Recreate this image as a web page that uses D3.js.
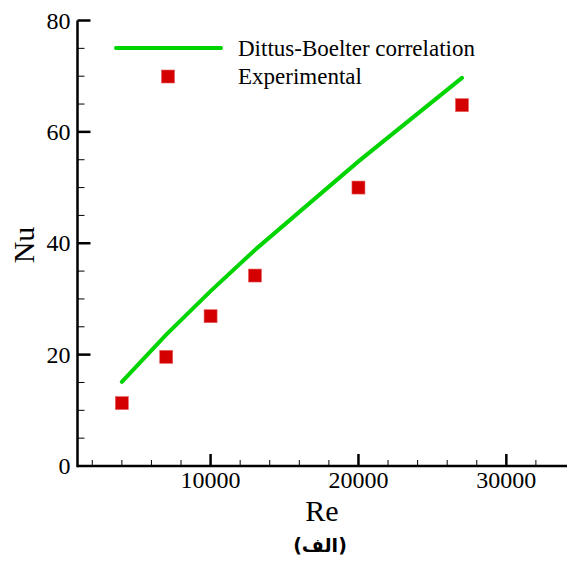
<!DOCTYPE html>
<html lang="en">
<head>
    <meta charset="UTF-8">
    <title>Nu vs Re</title>
    <script src="https://d3js.org/d3.v7.min.js"></script>
    <style>
        body { margin: 0; background: #fff; }
        svg { display: block; }
        text { font-family: 'Liberation Serif', 'Times New Roman', serif; fill: #000; }
    </style>
</head>
<body>
    <svg id="chart"></svg>
    <script>
        // Data
        const reValues = [4000, 7000, 10000, 13000, 20000, 27000];
        const nuCorrelation = [15.1, 23.6, 31.4, 38.8, 54.7, 69.7];
        const nuExperimental = [11.3, 19.6, 26.9, 34.2, 50.0, 64.8];
        const xTicks = [10000, 20000, 30000];
        const yTicks = [0, 20, 40, 60, 80];
        const legendLabels = ["Dittus-Boelter correlation", "Experimental"];

        const width = 567, height = 562;
        const svg = d3.select("#chart").attr("width", width).attr("height", height);

        const x = d3.scaleLinear().domain([1000, 33900]).range([77.5, 564]);
        const y = d3.scaleLinear().domain([0, 80]).range([466, 20.5]);

        const green = "#00d400", red = "#d40000";

        // ticks (inward)
        const axisG = svg.append("g").attr("stroke", "#000");
        d3.range(2000, 33900, 2000).forEach(v => {
            const major = v % 10000 === 0;
            axisG.append("line")
                .attr("x1", x(v)).attr("x2", x(v))
                .attr("y1", y(0)).attr("y2", y(0) - (major ? 12 : 6))
                .attr("stroke-width", major ? 2.5 : 1);
        });
        d3.range(5, 80.1, 5).forEach(v => {
            const major = v % 20 === 0;
            axisG.append("line")
                .attr("x1", x.range()[0]).attr("x2", x.range()[0] + (major ? 13 : 7))
                .attr("y1", y(v)).attr("y2", y(v))
                .attr("stroke-width", major ? 2.5 : 1);
        });
        // axis lines
        axisG.append("line")
            .attr("x1", x.range()[0]).attr("x2", width)
            .attr("y1", y(0)).attr("y2", y(0)).attr("stroke-width", 2.5);
        axisG.append("line")
            .attr("x1", x.range()[0]).attr("x2", x.range()[0])
            .attr("y1", y(0) + 1.2).attr("y2", y(80)).attr("stroke-width", 2.5);

        // tick labels
        svg.append("g").selectAll("text").data(xTicks).join("text")
            .attr("x", d => x(d)).attr("y", 488)
            .attr("text-anchor", "middle").attr("font-size", 24)
            .text(d => d);
        svg.append("g").selectAll("text").data(yTicks).join("text")
            .attr("x", 70.5).attr("y", d => y(d) + 8)
            .attr("text-anchor", "end").attr("font-size", 24)
            .text(d => d);

        // axis titles
        svg.append("text").attr("x", 322).attr("y", 521)
            .attr("text-anchor", "middle").attr("font-size", 30).text("Re");
        svg.append("text")
            .attr("transform", "translate(34,245) rotate(-90)")
            .attr("text-anchor", "middle").attr("font-size", 30).text("Nu");
        svg.append("text").attr("x", 320).attr("y", 552)
            .attr("text-anchor", "middle").attr("font-size", 19)
            .attr("font-weight", "bold")
            .style("font-family", "'DejaVu Sans', sans-serif")
            .attr("direction", "rtl")
            .text("(الف)");

        // correlation line
        const line = d3.line().x((d, i) => x(reValues[i])).y(d => y(d));
        svg.append("path").datum(nuCorrelation)
            .attr("d", line).attr("fill", "none")
            .attr("stroke", green).attr("stroke-width", 4)
            .attr("stroke-linecap", "round");

        // experimental points
        const s = 13;
        svg.append("g").selectAll("rect").data(nuExperimental).join("rect")
            .attr("x", (d, i) => x(reValues[i]) - s / 2)
            .attr("y", d => y(d) - s / 2)
            .attr("width", s).attr("height", s)
            .attr("fill", red).attr("stroke", "#e86060").attr("stroke-width", 0.6);

        // legend
        const lg = svg.append("g");
        lg.append("line").attr("x1", 116).attr("x2", 221).attr("y1", 48).attr("y2", 48)
            .attr("stroke", green).attr("stroke-width", 4).attr("stroke-linecap", "round");
        lg.append("rect").attr("x", 168 - s / 2).attr("y", 76.5 - s / 2)
            .attr("width", s).attr("height", s)
            .attr("fill", red).attr("stroke", "#e86060").attr("stroke-width", 0.6);
        lg.selectAll("text").data(legendLabels).join("text")
            .attr("x", 238).attr("y", (d, i) => 55.5 + i * 28)
            .attr("font-size", 23).text(d => d);
    </script>
</body>
</html>
